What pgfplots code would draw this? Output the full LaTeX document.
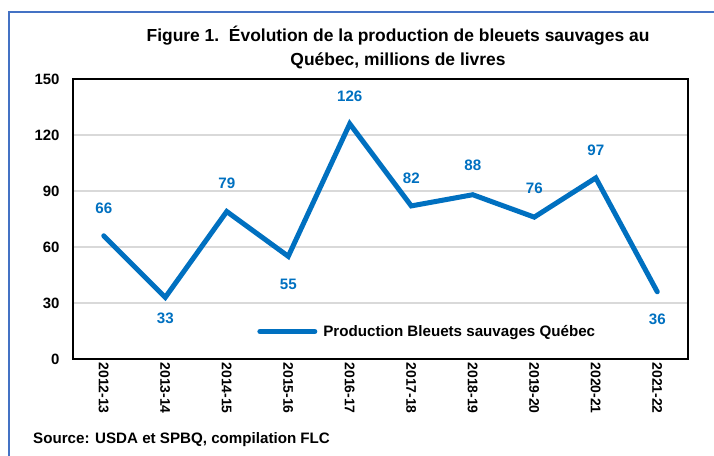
\documentclass[border=0pt]{standalone}
\usepackage{pgfplots}
\pgfplotsset{compat=1.18}
\usepackage{fontspec}
\setmainfont{Liberation Sans}
\definecolor{lineblue}{HTML}{0070C0}
\definecolor{frameblue}{HTML}{4472C4}
\definecolor{gridgray}{HTML}{D9D9D9}
\begin{document}
\begin{tikzpicture}[x=1bp,y=1bp]
\useasboundingbox (0,0) rectangle (714,456);
\draw[frameblue, line width=2bp] (9,-2) -- (9,444) -- (716,444);
\node[align=center, font=\bfseries\fontsize{17.5}{25}\selectfont, inner sep=0pt] at (398,408.5)
  {Figure 1.\ \ Évolution de la production de bleuets sauvages au\\Québec, millions de livres};
\node[anchor=west, font=\bfseries\fontsize{15.2}{16}\selectfont, inner sep=0pt] at (33,16)
  {Source: USDA et SPBQ, compilation FLC};
\begin{axis}[
  at={(73bp,97bp)}, anchor=south west,
  width=615bp, height=280bp, scale only axis,
  xmin=-0.5, xmax=9.5, ymin=0, ymax=150,
  xtick={0,...,9},
  xticklabels={2012-13,2013-14,2014-15,2015-16,2016-17,2017-18,2018-19,2019-20,2020-21,2021-22},
  xticklabel style={rotate=-90, anchor=west, font=\bfseries\fontsize{14}{15}\selectfont},
  ytick={0,30,60,90,120,150},
  yticklabel style={font=\bfseries\fontsize{15}{16}\selectfont, anchor=east, xshift=-10bp},
  /pgf/number format/assume math mode=true,
  major tick length=0pt,
  ymajorgrids, grid style={gridgray, line width=1.5bp},
  axis line style={black, line width=1.5bp},
  legend style={draw=none, fill=none, at={(0.576,0.098)}, anchor=center,
    font=\bfseries\fontsize{15.2}{16}\selectfont, legend cell align=left},
  legend image code/.code={\draw[#1, line cap=round] (0bp,0bp) -- (55bp,0bp); \path (59bp,0bp);},
  clip=false,
]
\addplot[lineblue, line width=5bp, line cap=round, line join=miter,
  visualization depends on={\thisrow{off} \as \myoff},
  nodes near coords,
  nodes near coords style={anchor=center, yshift=\myoff bp, text=lineblue, font=\bfseries\fontsize{15.2}{16}\selectfont},
  point meta=explicit symbolic]
  table[x=x, y=y, meta=y] {
  x y off
  0 66 28
  1 33 -21
  2 79 28
  3 55 -28
  4 126 28
  5 82 28
  6 88 29
  7 76 29
  8 97 28
  9 36 -28
};
\addlegendentry{Production Bleuets sauvages Québec}
\end{axis}
\end{tikzpicture}
\end{document}
